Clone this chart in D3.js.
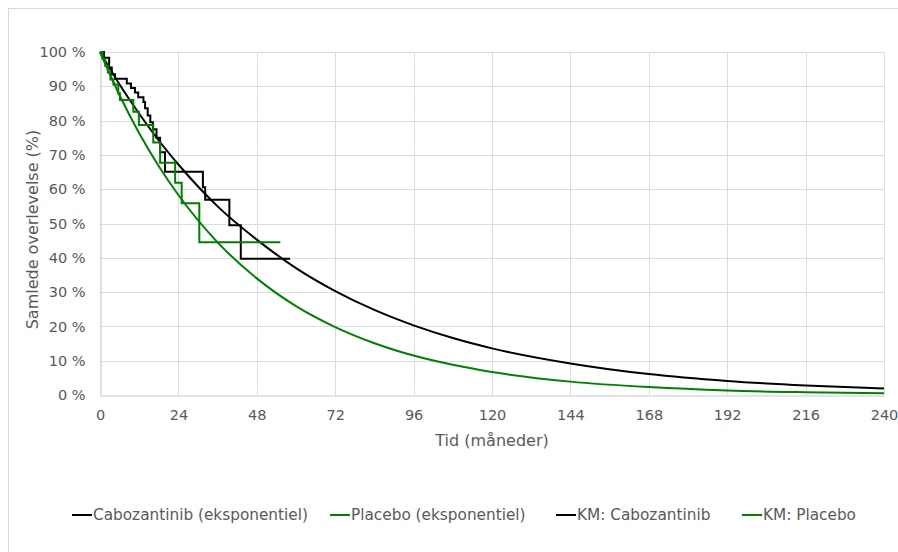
<!DOCTYPE html>
<html>
<head>
<meta charset="utf-8">
<script src="https://cdn.jsdelivr.net/npm/d3@7"></script>
<style>
  body { margin: 0; background: #fff; }
  text { font-family: "DejaVu Sans", Verdana, sans-serif; fill: #595959; }
</style>
</head>
<body>
<script>
// exponential fits (months, % survival)
const expMonths   = [0, 6, 12, 18, 24, 36, 48, 60, 72, 84, 96, 108, 120, 144, 168, 192, 216, 240];
const caboExp     = [100, 90.5, 82, 74.2, 67.2, 55, 45.3, 37, 30.3, 24.8, 20.3, 16.6, 13.6, 9.2, 6.1, 4.1, 2.8, 1.9];
const placeboExp  = [100, 87.4, 76.3, 66.7, 58.3, 44.5, 34, 25.9, 19.8, 15.1, 11.5, 8.8, 6.7, 3.9, 2.3, 1.3, 0.8, 0.5];

// Kaplan-Meier steps (month where the step starts, % after it); last entry = end of follow-up
const kmCaboMonths = [0, 1.2, 2.8, 3.6, 4.6, 8.2, 9.5, 10.7, 11.7, 13.3, 13.8, 14.6, 15.4, 16.2, 17.3, 18.4, 19.9, 31.5, 32.2, 39.6, 43.1, 58.2];
const kmCaboPct    = [100, 98.3, 95.5, 93.5, 92.2, 90.8, 89.5, 88.2, 86.8, 85.4, 83.6, 81.5, 79.5, 77.5, 75, 70.8, 65.1, 60.6, 56.9, 49.5, 39.7, 39.7];
const kmPlacMonths = [0, 0.8, 1.6, 2.4, 3.2, 4.1, 5.6, 6.1, 10.2, 11.9, 16.3, 18.4, 23.0, 25.0, 30.4, 55.2];
const kmPlacPct    = [100, 98, 96, 94, 92, 90.5, 88, 86, 82.6, 78.7, 73.6, 67.7, 61.9, 55.9, 44.5, 44.5];

const xTicks = d3.range(0, 241, 24);
const yTicks = d3.range(0, 101, 10);

const legendNames  = ["Cabozantinib (eksponentiel)", "Placebo (eksponentiel)", "KM: Cabozantinib", "KM: Placebo"];
const legendColors = ["#000000", "#008000", "#000000", "#008000"];

const width = 898, height = 552;
const margin = { left: 100, right: 14, top: 52, bottom: 157 };

const svg = d3.select("body").append("svg")
    .attr("width", width)
    .attr("height", height);

// chart frame
svg.append("rect")
    .attr("x", 8.5).attr("y", 8.5)
    .attr("width", width).attr("height", height)
    .attr("fill", "none")
    .attr("stroke", "#d9d9d9");

const x = d3.scaleLinear().domain([0, 240]).range([margin.left, width - margin.right]);
const y = d3.scaleLinear().domain([0, 100]).range([height - margin.bottom, margin.top]);

// gridlines
const grid = svg.append("g").attr("stroke", "#dcdbe4").attr("stroke-width", 1);
grid.selectAll(".gx").data(xTicks.slice(1)).join("line")
    .attr("x1", d => Math.round(x(d)) + 0.5).attr("x2", d => Math.round(x(d)) + 0.5)
    .attr("y1", y(0)).attr("y2", y(100));
grid.selectAll(".gy").data(yTicks.slice(1)).join("line")
    .attr("x1", x(0)).attr("x2", x(240))
    .attr("y1", d => Math.round(y(d)) + 0.5).attr("y2", d => Math.round(y(d)) + 0.5);

// axes
const xAxis = svg.append("g")
    .attr("transform", `translate(0,${Math.round(y(0)) + 0.5})`)
    .call(d3.axisBottom(x).tickValues(xTicks).tickSize(0).tickPadding(14));
const yAxis = svg.append("g")
    .attr("transform", `translate(${Math.round(x(0)) + 0.5},0)`)
    .call(d3.axisLeft(y).tickValues(yTicks).tickSize(0).tickPadding(15).tickFormat(d => d + " %"));

[xAxis, yAxis].forEach(a => {
    a.select(".domain").attr("stroke", "#c9c8d2").attr("stroke-width", 1.2);
    a.selectAll("text").attr("font-size", 14.5).attr("fill", "#595959")
        .attr("font-family", "DejaVu Sans, Verdana, sans-serif");
});

// axis titles
svg.append("text")
    .attr("x", (x(0) + x(240)) / 2).attr("y", 446)
    .attr("text-anchor", "middle").attr("font-size", 16)
    .text("Tid (måneder)");
svg.append("text")
    .attr("transform", `translate(38,${(y(0) + y(100)) / 2 + 6}) rotate(-90)`)
    .attr("text-anchor", "middle").attr("font-size", 16)
    .text("Samlede overlevelse (%)");

// series
const smooth = d3.line()
    .x((d, i) => x(expMonths[i]))
    .y(d => y(d))
    .curve(d3.curveMonotoneX);

const plot = svg.append("g");

plot.append("path").datum(caboExp)
    .attr("d", smooth)
    .attr("fill", "none").attr("stroke", legendColors[0]).attr("stroke-width", 2);
plot.append("path").datum(placeboExp)
    .attr("d", smooth)
    .attr("fill", "none").attr("stroke", legendColors[1]).attr("stroke-width", 2);

function stepLine(months) {
    return d3.line()
        .x((d, i) => x(months[i]))
        .y(d => y(d))
        .curve(d3.curveStepAfter);
}

plot.append("path").datum(kmCaboPct)
    .attr("d", stepLine(kmCaboMonths))
    .attr("fill", "none").attr("stroke", legendColors[2]).attr("stroke-width", 2);
plot.append("path").datum(kmPlacPct)
    .attr("d", stepLine(kmPlacMonths))
    .attr("fill", "none").attr("stroke", legendColors[3]).attr("stroke-width", 2);

// legend
const legendX = [72, 330, 556, 742];
const legend = svg.append("g").attr("transform", "translate(0,515)");
legendNames.forEach((name, i) => {
    const g = legend.append("g").attr("transform", `translate(${legendX[i]},0)`);
    g.append("line")
        .attr("x1", 0).attr("x2", 20)
        .attr("stroke", legendColors[i]).attr("stroke-width", 2);
    g.append("text")
        .attr("x", 21).attr("dy", "0.35em")
        .attr("font-size", 15.3)
        .text(name);
});
</script>
</body>
</html>
